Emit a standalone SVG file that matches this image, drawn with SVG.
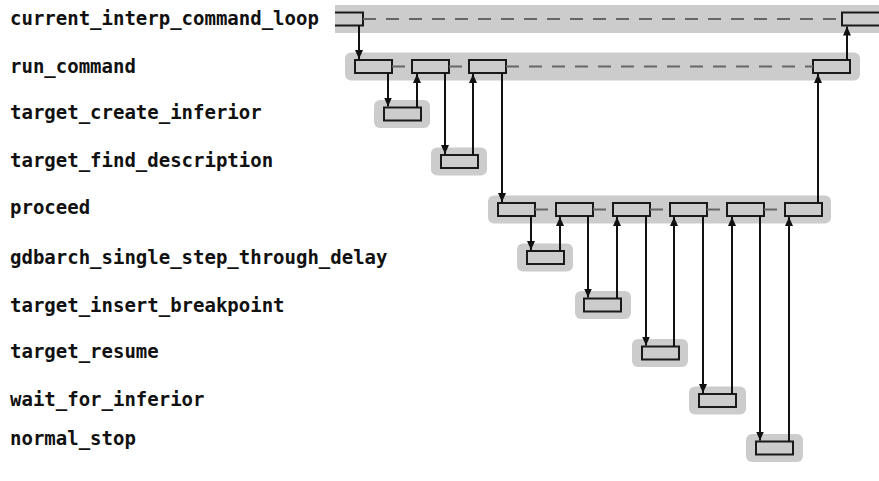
<svg xmlns="http://www.w3.org/2000/svg" width="879" height="481" viewBox="0 0 879 481">
  <style>
    .bg { fill: #ffffff; }
    .band { fill: #cccccc; }
    .box { fill: #cccccc; stroke: #1a1a1a; stroke-width: 2; }
    .label { font-family: "DejaVu Sans Mono", "Liberation Mono", monospace; font-weight: bold; font-size: 19px; fill: #111111; }
    .dash { stroke: #666666; stroke-width: 2; stroke-dasharray: 13 10; fill: none; }
    .call { stroke: #111111; stroke-width: 2; fill: none; marker-end: url(#arrow); }
  </style>
  <defs>
    <marker id="arrow" markerUnits="userSpaceOnUse" markerWidth="9" markerHeight="9" viewBox="0 0 9 9" refX="9" refY="4.5" orient="auto">
      <path d="M0,0.5 L9,4.5 L0,8.5 z" fill="#111111"/>
    </marker>
  </defs>
  <rect class="bg" x="0" y="0" width="879" height="481"/>

  <g id="current_interp_command_loop">
    <rect class="band" x="335" y="5" width="550" height="28"/>
    <text class="label" x="10" y="25">current_interp_command_loop</text>
    <rect x="335" y="12.5" width="28" height="13" fill="#cccccc"/>
    <path d="M335,12.5 H363 V25.5 H335" fill="none" stroke="#1a1a1a" stroke-width="2"/>
    <rect class="box" x="842" y="12.5" width="45" height="13"/>
  </g>

  <g id="run_command">
    <rect class="band" x="345" y="52.5" width="515" height="28" rx="6"/>
    <text class="label" x="10" y="72.5">run_command</text>
    <rect class="box" x="355" y="60" width="37" height="13"/>
    <rect class="box" x="412" y="60" width="37" height="13"/>
    <rect class="box" x="469" y="60" width="37" height="13"/>
    <rect class="box" x="813" y="60" width="37" height="13"/>
  </g>

  <g id="target_create_inferior">
    <rect class="band" x="374" y="100" width="56" height="28" rx="6"/>
    <text class="label" x="10" y="119">target_create_inferior</text>
    <rect class="box" x="384" y="107.5" width="37" height="13"/>
  </g>

  <g id="target_find_description">
    <rect class="band" x="431" y="147.5" width="56" height="28" rx="6"/>
    <text class="label" x="10" y="166.5">target_find_description</text>
    <rect class="box" x="441" y="155" width="37" height="13"/>
  </g>

  <g id="proceed">
    <rect class="band" x="488" y="195.5" width="343" height="28" rx="6"/>
    <text class="label" x="10" y="214">proceed</text>
    <rect class="box" x="498" y="203" width="37" height="13"/>
    <rect class="box" x="556" y="203" width="37" height="13"/>
    <rect class="box" x="613" y="203" width="37" height="13"/>
    <rect class="box" x="670" y="203" width="37" height="13"/>
    <rect class="box" x="727" y="203" width="37" height="13"/>
    <rect class="box" x="785" y="203" width="37" height="13"/>
  </g>

  <g id="gdbarch_single_step_through_delay">
    <rect class="band" x="517" y="243.5" width="56" height="28" rx="6"/>
    <text class="label" x="10" y="264">gdbarch_single_step_through_delay</text>
    <rect class="box" x="527" y="251" width="37" height="13"/>
  </g>

  <g id="target_insert_breakpoint">
    <rect class="band" x="575" y="291" width="56" height="28" rx="6"/>
    <text class="label" x="10" y="311.5">target_insert_breakpoint</text>
    <rect class="box" x="584" y="298.5" width="37" height="13"/>
  </g>

  <g id="target_resume">
    <rect class="band" x="632" y="339" width="56" height="28" rx="6"/>
    <text class="label" x="10" y="358">target_resume</text>
    <rect class="box" x="642" y="346.5" width="37" height="13"/>
  </g>

  <g id="wait_for_inferior">
    <rect class="band" x="689" y="386.5" width="57" height="28" rx="6"/>
    <text class="label" x="10" y="405.5">wait_for_inferior</text>
    <rect class="box" x="699" y="394" width="37" height="13"/>
  </g>

  <g id="normal_stop">
    <rect class="band" x="746" y="434" width="57" height="28" rx="6"/>
    <text class="label" x="10" y="445">normal_stop</text>
    <rect class="box" x="756" y="441.5" width="37" height="13"/>
  </g>

  <g id="connectors">
    <line class="dash" x1="363" y1="19" x2="842" y2="19"/>
    <line class="dash" x1="392" y1="66.5" x2="412" y2="66.5"/>
    <line class="dash" x1="449" y1="66.5" x2="469" y2="66.5"/>
    <line class="dash" x1="506" y1="66.5" x2="813" y2="66.5"/>
    <line class="dash" x1="535" y1="209.5" x2="556" y2="209.5"/>
    <line class="dash" x1="593" y1="209.5" x2="613" y2="209.5"/>
    <line class="dash" x1="650" y1="209.5" x2="670" y2="209.5"/>
    <line class="dash" x1="707" y1="209.5" x2="727" y2="209.5"/>
    <line class="dash" x1="764" y1="209.5" x2="785" y2="209.5"/>

    <line class="call" x1="359" y1="25.5" x2="359" y2="59"/>
    <line class="call" x1="388" y1="73" x2="388" y2="106.5"/>
    <line class="call" x1="417" y1="107.5" x2="417" y2="74"/>
    <line class="call" x1="445" y1="73" x2="445" y2="154"/>
    <line class="call" x1="473" y1="155" x2="473" y2="74"/>
    <line class="call" x1="502" y1="73" x2="502" y2="202"/>
    <line class="call" x1="818" y1="203" x2="818" y2="74"/>
    <line class="call" x1="847" y1="60" x2="847" y2="26.5"/>

    <line class="call" x1="531" y1="216" x2="531" y2="250"/>
    <line class="call" x1="560" y1="251" x2="560" y2="217"/>
    <line class="call" x1="588" y1="216" x2="588" y2="297.5"/>
    <line class="call" x1="617" y1="298.5" x2="617" y2="217"/>
    <line class="call" x1="646" y1="216" x2="646" y2="345.5"/>
    <line class="call" x1="674" y1="346.5" x2="674" y2="217"/>
    <line class="call" x1="703" y1="216" x2="703" y2="393"/>
    <line class="call" x1="732" y1="394" x2="732" y2="217"/>
    <line class="call" x1="760" y1="216" x2="760" y2="440.5"/>
    <line class="call" x1="789" y1="441.5" x2="789" y2="217"/>
  </g>
</svg>
